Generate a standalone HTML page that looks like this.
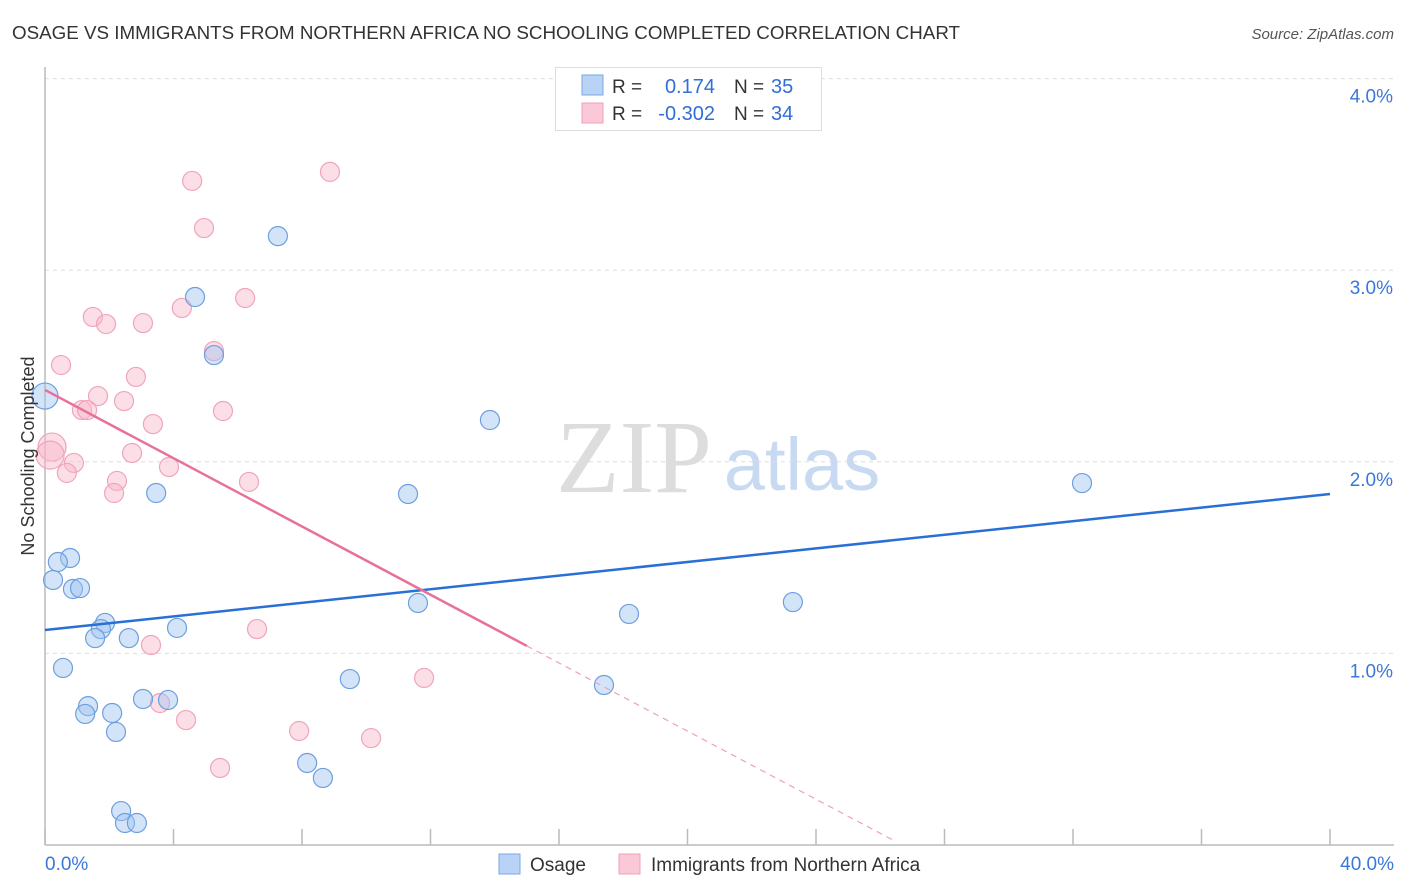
<!DOCTYPE html>
<html><head><meta charset="utf-8">
<style>
body{margin:0;background:#fff;font-family:"Liberation Sans",sans-serif;}
svg{display:block}
</style></head>
<body>
<svg id="chart" width="1406" height="892" viewBox="0 0 1406 892" xmlns="http://www.w3.org/2000/svg">
<text x="12" y="39" font-size="18" fill="#333" textLength="948" lengthAdjust="spacingAndGlyphs">OSAGE VS IMMIGRANTS FROM NORTHERN AFRICA NO SCHOOLING COMPLETED CORRELATION CHART</text>
<text x="1394" y="39" font-size="15" fill="#555" font-style="italic" text-anchor="end">Source: ZipAtlas.com</text>
<g>
<text x="634" y="492" font-size="104" fill="#ddd" font-family="Liberation Serif,serif" text-anchor="middle">ZIP</text>
<text x="802" y="490" font-size="74" fill="#c8daf2" text-anchor="middle">atlas</text>
</g>
<g id="grid"></g>
<g id="axes"></g>
<g id="marks"></g>
<g id="trends"></g>
<text transform="translate(34,456) rotate(-90)" font-size="18" fill="#333" text-anchor="middle">No Schooling Completed</text>
<g>
<rect x="555.5" y="67.5" width="266" height="63" fill="#fff" stroke="#ddd"/>
<rect x="582" y="75" width="21" height="20" fill="#b8d3f5" stroke="#7aa8e6"/>
<rect x="582" y="103" width="21" height="20" fill="#fac8d6" stroke="#f0a0b8"/>
<text x="612" y="93" font-size="19" fill="#333">R =</text>
<text x="715" y="93" font-size="20" fill="#2f6fd6" text-anchor="end">0.174</text>
<text x="734" y="93" font-size="19" fill="#333">N =</text>
<text x="771" y="93" font-size="20" fill="#2f6fd6">35</text>
<text x="612" y="120" font-size="19" fill="#333">R =</text>
<text x="715" y="120" font-size="20" fill="#2f6fd6" text-anchor="end">-0.302</text>
<text x="734" y="120" font-size="19" fill="#333">N =</text>
<text x="771" y="120" font-size="20" fill="#2f6fd6">34</text>
</g>
<g>
<rect x="499" y="854" width="21" height="20" fill="#b8d3f5" stroke="#7aa8e6"/>
<text x="530" y="871" font-size="19" fill="#333">Osage</text>
<rect x="619" y="854" width="21" height="20" fill="#fac8d6" stroke="#f0a0b8"/>
<text x="651" y="871" font-size="19" fill="#333">Immigrants from Northern Africa</text>
</g>
</svg>
<script>
const yTicks=[1,2,3,4];
const yTickLabels=["1.0%","2.0%","3.0%","4.0%"];
const xTicks=[0,4,8,12,16,20,24,28,32,36,40];
const xEndLabels=["0.0%","40.0%"];
const osageX=[0,7.25,4.67,5.26,13.85,3.46,11.30,32.28,0.78,0.40,0.25,0.87,1.09,1.87,1.74,1.56,2.61,4.11,11.61,18.18,23.28,0.56,9.49,17.40,3.05,3.83,1.34,1.25,2.09,2.21,8.16,8.65,2.37,2.49,2.86];
const osageY=[2.343,3.178,2.86,2.557,2.218,1.837,1.832,1.889,1.498,1.477,1.383,1.336,1.341,1.159,1.127,1.08,1.08,1.133,1.263,1.206,1.268,0.924,0.866,0.835,0.762,0.757,0.725,0.684,0.689,0.59,0.428,0.35,0.177,0.115,0.115];
const osageBig=[0];
const immX=[8.87,4.58,4.95,6.23,4.26,1.49,1.90,3.05,5.26,0.50,2.83,1.65,2.46,1.15,1.31,5.54,3.36,0.22,0.16,2.71,0.90,0.68,3.86,6.35,2.24,2.15,6.60,3.30,11.80,3.58,4.39,7.91,10.15,5.45];
const immY=[3.513,3.466,3.22,2.855,2.803,2.756,2.719,2.724,2.578,2.505,2.443,2.343,2.317,2.27,2.27,2.265,2.197,2.077,2.035,2.046,1.994,1.942,1.973,1.895,1.9,1.837,1.127,1.044,0.872,0.741,0.652,0.595,0.558,0.402];
const immBig=[17,18];
const osageTrend=[[0,1.122],[40,1.832]];
const immTrendSolid=[[0,2.375],[15.0,1.039]];
const immTrendDash=[[15.0,1.039],[26.46,0.02]];

const X0=45,X1=1330,Y0=845,Ypx=191.6;
const sx=v=>X0+(X1-X0)*v/40;
const sy=v=>Y0-v*Ypx;
const NS="http://www.w3.org/2000/svg";
function mk(tag,attrs,parent){const e=document.createElementNS(NS,tag);for(const k in attrs)e.setAttribute(k,attrs[k]);parent.appendChild(e);return e;}
const grid=document.getElementById('grid'),axes=document.getElementById('axes'),marks=document.getElementById('marks'),trends=document.getElementById('trends');
yTicks.forEach((t,i)=>{
  const l=mk('line',{x1:45,x2:1394,y1:sy(t),y2:sy(t),stroke:'#ddd','stroke-dasharray':'4,4'},grid);
  
  
  const tx=mk('text',{x:1393,y:sy(t)+24,'font-size':19,fill:'#3a78d8','text-anchor':'end'},axes);
  tx.textContent=yTickLabels[i];
  
  
});
let a=mk('line',{x1:45,x2:45,y1:67,y2:845,stroke:'#bbb','stroke-width':1.5},axes);


a=mk('line',{x1:45,x2:1394,y1:845,y2:845,stroke:'#bbb','stroke-width':1.5},axes);


xTicks.forEach(t=>{
  const l=mk('line',{x1:sx(t),x2:sx(t),y1:829,y2:845,stroke:'#bbb','stroke-width':1.5},axes);
  
  
});
let t1=mk('text',{x:45,y:870,'font-size':19,fill:'#3a78d8'},axes);t1.textContent=xEndLabels[0];


let t2=mk('text',{x:1394,y:870,'font-size':19,fill:'#3a78d8','text-anchor':'end'},axes);t2.textContent=xEndLabels[1];



immX.forEach((x,i)=>{
  const c=mk('circle',{cx:sx(x),cy:sy(immY[i]),r:immBig.includes(i)?14:9.5,fill:'rgba(248,182,202,0.45)',stroke:'#f0a4bc','stroke-width':1.2},marks);
  
  
});
osageX.forEach((x,i)=>{
  const c=mk('circle',{cx:sx(x),cy:sy(osageY[i]),r:osageBig.includes(i)?13:9.5,fill:'rgba(160,196,240,0.45)',stroke:'#6c9fe0','stroke-width':1.2},marks);
  
  
});
let l1=mk('line',{x1:sx(osageTrend[0][0]),y1:sy(osageTrend[0][1]),x2:sx(osageTrend[1][0]),y2:sy(osageTrend[1][1]),stroke:'#2a6fd6','stroke-width':2.5},trends);


let l2=mk('line',{x1:sx(immTrendSolid[0][0]),y1:sy(immTrendSolid[0][1]),x2:sx(immTrendSolid[1][0]),y2:sy(immTrendSolid[1][1]),stroke:'#e8709a','stroke-width':2.5},trends);


let l3=mk('line',{x1:sx(immTrendDash[0][0]),y1:sy(immTrendDash[0][1]),x2:sx(immTrendDash[1][0]),y2:sy(immTrendDash[1][1]),stroke:'#eea0b8','stroke-width':1.2,'stroke-dasharray':'6,5'},trends);


</script>
</body></html>
